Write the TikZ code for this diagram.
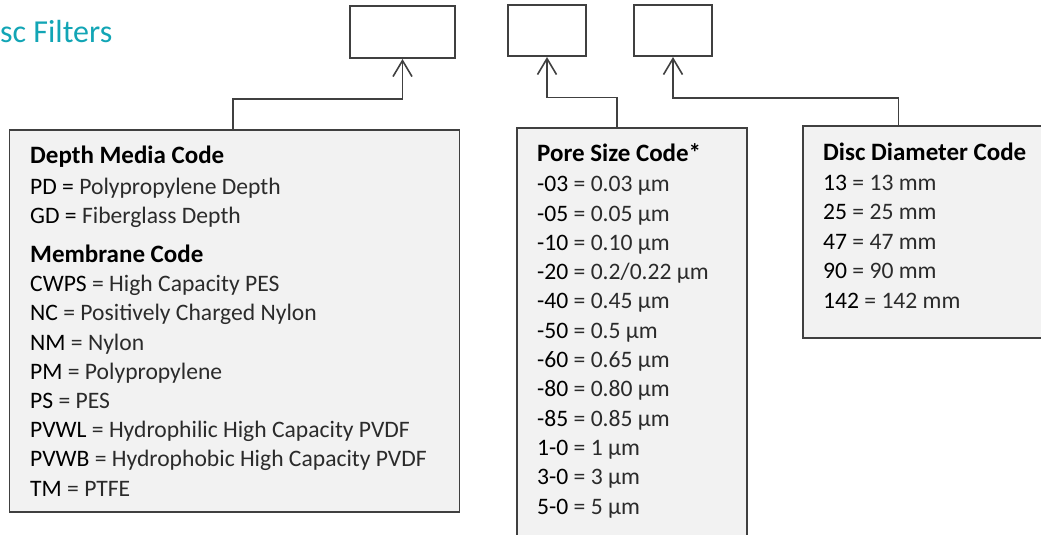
\documentclass[tikz,border=0pt]{standalone}
\usepackage{fontspec}
\setmainfont{Carlito}
\usetikzlibrary{arrows.meta, positioning, calc}

\definecolor{edgegray}{HTML}{404040}
\definecolor{boxgray}{HTML}{F2F2F2}
\definecolor{titleteal}{HTML}{12A5B5}
\definecolor{descgray}{HTML}{2B2B2B}

\newcommand{\cd}[1]{\textcolor{black}{#1}}

\tikzset{
    slotbox/.style={draw=edgegray, line width=2pt, fill=white, anchor=north west, inner sep=0pt},
    codebox/.style={draw=edgegray, line width=1.8pt, fill=boxgray, anchor=north west, inner sep=0pt},
    codehead/.style={anchor=base west, inner sep=0pt, font=\fontsize{25}{30}\selectfont\bfseries},
    codeline/.style={anchor=base west, inner sep=0pt, text=descgray, font=\fontsize{23.6}{28}\selectfont},
    codearrow/.style={draw=edgegray, line width=1.6pt, -{Straight Barb[length=16pt, width=19pt]}}
}

\begin{document}
\begin{tikzpicture}[x=1pt, y=-1pt]
    \useasboundingbox (0,0) rectangle (1041,535);

    % title, cut at the left edge
    \node[anchor=base west, inner sep=0pt, text=titleteal, font=\fontsize{32}{38}\selectfont] (title) at (0,43) {sc Filters};

    % empty slots of the part number
    \node[slotbox, minimum width=105pt, minimum height=52pt] (slotA) at (349,5) {};
    \node[slotbox, minimum width=78pt, minimum height=51pt] (slotB) at (507,4) {};
    \node[slotbox, minimum width=78pt, minimum height=51pt] (slotC) at (633,4) {};

    % code tables
    \node[codebox, minimum width=450pt, minimum height=382pt] (depth) at (8.5,129) {};
    \node[codebox, minimum width=230pt, minimum height=430pt] (pore) at (516,127) {};
    \node[codebox, minimum width=260pt, minimum height=212pt] (disc) at (802,125) {};

    % depth media and membrane
    \node[codehead] (depthhead) at (30,163) {Depth Media Code};
    \node[codeline] (pd) at (30,194) {\cd{PD =} Polypropylene Depth};
    \node[codeline] (gd) at (30,223) {\cd{GD =} Fiberglass Depth};
    \node[codehead] (membhead) at (30,262.5) {Membrane Code};
    \foreach \code/\desc [count=\i] in {CWPS/High Capacity PES, NC/Positively Charged Nylon,
        NM/Nylon, PM/Polypropylene, PS/PES, PVWL/Hydrophilic High Capacity PVDF,
        PVWB/Hydrophobic High Capacity PVDF, TM/PTFE}
        \node[codeline] (memb\i) at (30,{291.7+29.2*(\i-1)}) {\cd{\code} = \desc};

    % pore size
    \node[codehead] (porehead) at (537,161.7) {Pore Size Code*};
    \foreach \code/\desc [count=\i] in {-03/0.03, -05/0.05, -10/0.10, -20/0.2\slash 0.22,
        -40/0.45, -50/0.5, -60/0.65, -80/0.80, -85/0.85, 1-0/1, 3-0/3, 5-0/5}
        \node[codeline] (pore\i) at (537,{191.7+29.3*(\i-1)}) {\cd{\code} = \desc{} µm};

    % disc diameter
    \node[codehead] (dischead) at (823,160.7) {Disc Diameter Code};
    \foreach \code [count=\i] in {13, 25, 47, 90, 142}
        \node[codeline] (disc\i) at (823,{190+29.6*(\i-1)}) {\cd{\code} = \code{} mm};

    % connectors
    \coordinate (jA) at (233,99);
    \coordinate (jB) at (617,97.3);
    \coordinate (jC) at (898.3,98);
    \draw[codearrow] (depth.north -| jA) -- (jA) -| (slotA.south);
    \draw[codearrow] (pore.north -| jB) -- (jB) -| (slotB.south);
    \draw[codearrow] (disc.north -| jC) -- (jC) -| (slotC.south);
\end{tikzpicture}
\end{document}
